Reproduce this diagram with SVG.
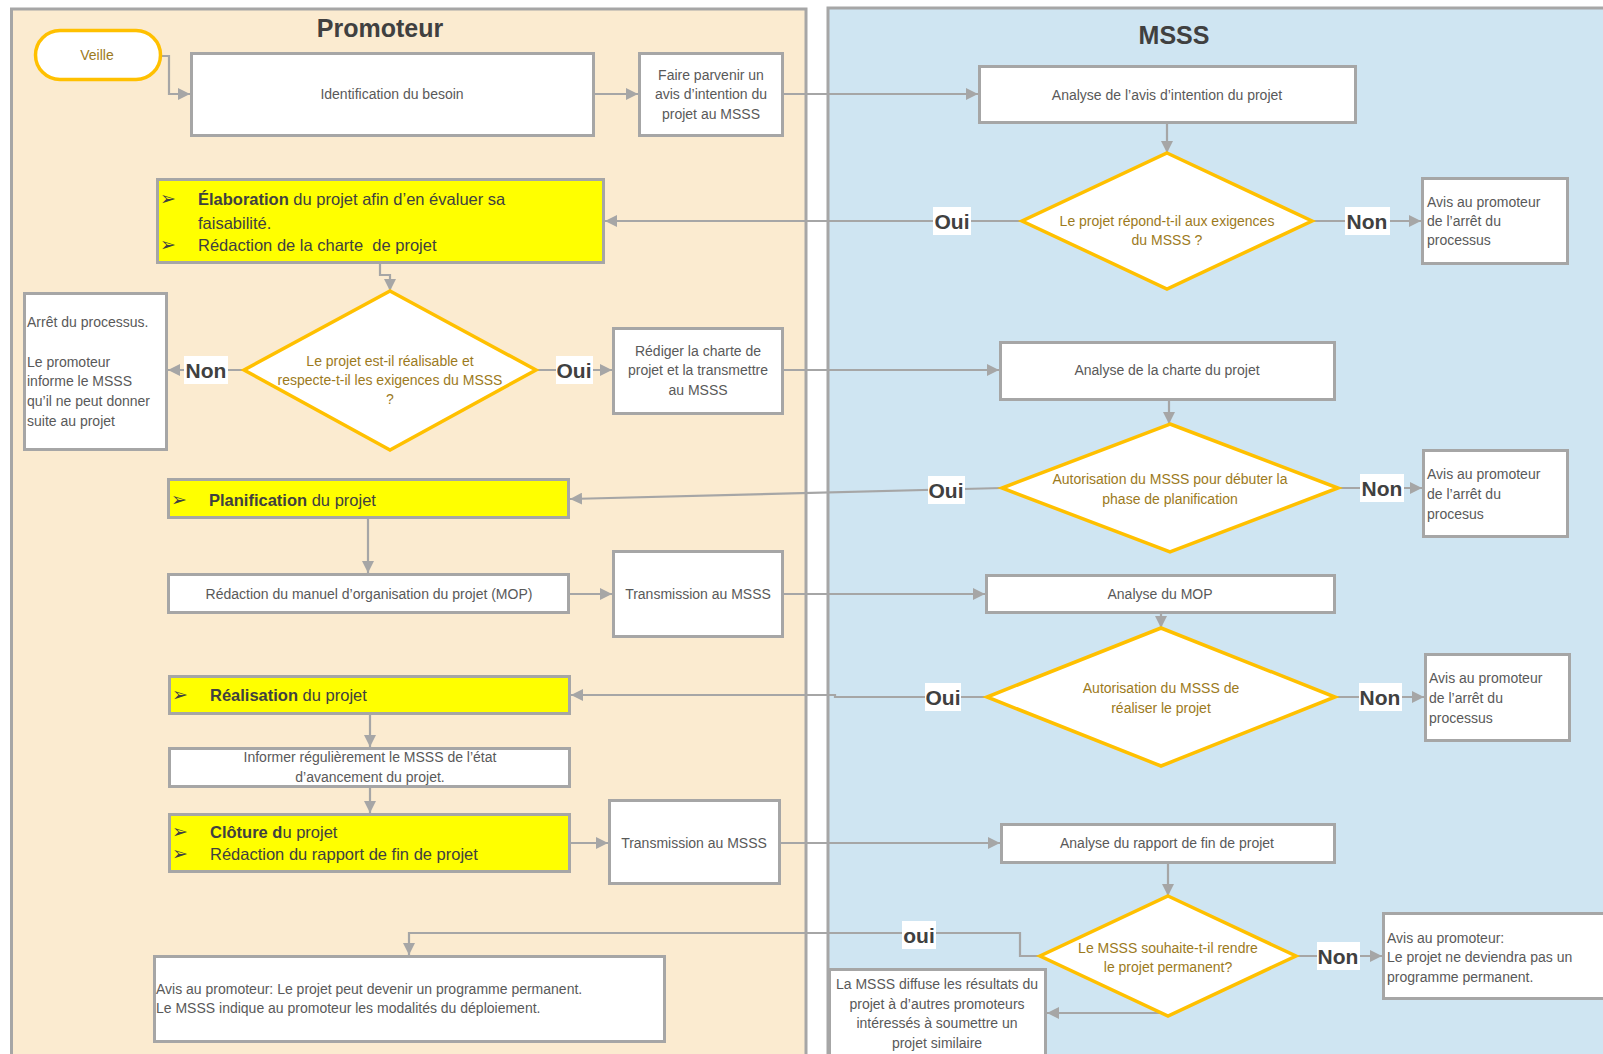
<svg xmlns="http://www.w3.org/2000/svg" width="1603" height="1054" viewBox="0 0 1603 1054">
<style>
.lane-p{fill:#FBEBD0;stroke:#A6A6A6;stroke-width:3}
.lane-m{fill:#CFE5F2;stroke:#A6A6A6;stroke-width:3}
.box{fill:#FFFFFF;stroke:#A6A6A6;stroke-width:3}
.ybox{fill:#FFFF00;stroke:#A6A6A6;stroke-width:3}
.dia{fill:#FFFFFF;stroke:#FFC000;stroke-width:3.5}
.conn{fill:none;stroke:#A6A6A6;stroke-width:2.2;marker-end:url(#arr)}
.t{font-family:"Liberation Sans",Arial,sans-serif;font-size:14px;fill:#595959}
.c{text-anchor:middle}
.d{fill:#9C7A1C}
.y{font-size:16.5px;fill:#404040}
.b{font-weight:bold}
.bul{font-family:"DejaVu Sans",sans-serif;font-size:19px;fill:#404040}
.lbl{font-family:"Liberation Sans",Arial,sans-serif;font-weight:bold;font-size:21px;fill:#404040;text-anchor:middle}
.lbg{fill:#FFFFFF}
.title{font-family:"Liberation Sans",Arial,sans-serif;font-weight:bold;font-size:25px;fill:#404040;text-anchor:middle}
</style>
<defs>
<marker id="arr" markerUnits="userSpaceOnUse" markerWidth="12" markerHeight="12" refX="12" refY="6" orient="auto">
<path d="M0,0 L12,6 L0,12 z" fill="#A6A6A6"/>
</marker>
</defs>
<rect width="1603" height="1054" fill="#FFFFFF"/>
<g id="lane-promoteur">
<rect class="lane-p" x="11.5" y="9" width="794.5" height="1060"/>
<text class="title" x="380" y="37">Promoteur</text>
</g>
<g id="lane-msss">
<rect class="lane-m" x="828" y="8" width="790" height="1060"/>
<text class="title" x="1174" y="44">MSSS</text>
</g>

<g id="connectors">
<path class="conn" d="M160,56 H169 V94 H190"/>
<path class="conn" d="M595,94 H638"/>
<path class="conn" d="M784,94 H978"/>
<path class="conn" d="M1167,124 V153"/>
<path class="conn" d="M1022,221 H605"/>
<path class="conn" d="M1312,221 H1421"/>
<path class="conn" d="M380,264 V275 H390 V291"/>
<path class="conn" d="M244,370 H168"/>
<path class="conn" d="M536,370 H612"/>
<path class="conn" d="M784,370 H999"/>
<path class="conn" d="M1169,401 V424"/>
<path class="conn" d="M1002,488 L570,499"/>
<path class="conn" d="M1338,488 H1422"/>
<path class="conn" d="M368,519 V573"/>
<path class="conn" d="M570,594 H612"/>
<path class="conn" d="M784,594 H985"/>
<path class="conn" d="M1161,614 V628"/>
<path class="conn" d="M987,697 H835 V695 H571"/>
<path class="conn" d="M1335,697 H1424"/>
<path class="conn" d="M370,715 V747"/>
<path class="conn" d="M370,788 V813"/>
<path class="conn" d="M571,843 H608"/>
<path class="conn" d="M781,843 H1000"/>
<path class="conn" d="M1168,864 V896"/>
<path class="conn" d="M1040,956 H1020 V933 H409 V955"/>
<path class="conn" d="M1296,956 H1382"/>
<path class="conn" d="M1168,1013 H1047"/>
<rect class="lbg" x="933" y="207" width="38" height="28"/>
<text class="lbl" x="952" y="229">Oui</text>
<rect class="lbg" x="1345" y="207" width="45" height="28"/>
<text class="lbl" x="1367" y="229">Non</text>
<rect class="lbg" x="184" y="356" width="44" height="28"/>
<text class="lbl" x="206" y="378">Non</text>
<rect class="lbg" x="556" y="356" width="37" height="28"/>
<text class="lbl" x="574" y="378">Oui</text>
<rect class="lbg" x="928" y="476" width="37" height="28"/>
<text class="lbl" x="946" y="498">Oui</text>
<rect class="lbg" x="1360" y="474" width="44" height="28"/>
<text class="lbl" x="1382" y="496">Non</text>
<rect class="lbg" x="925" y="683" width="36" height="28"/>
<text class="lbl" x="943" y="705">Oui</text>
<rect class="lbg" x="1359" y="683" width="43" height="28"/>
<text class="lbl" x="1380" y="705">Non</text>
<rect class="lbg" x="902" y="921" width="34" height="28"/>
<text class="lbl" x="919" y="943">oui</text>
<rect class="lbg" x="1317" y="942" width="43" height="28"/>
<text class="lbl" x="1338" y="964">Non</text>
</g>

<g id="n-veille">
<rect x="35.5" y="30.5" width="125" height="49" rx="24.5" fill="#FFFFFF" stroke="#FFC000" stroke-width="3.5"/>
<text class="t c d" x="97" y="60">Veille</text>
</g>
<g id="n-identification">
<rect class="box" x="191.5" y="53.5" width="402" height="82"/>
<text class="t c" x="392" y="99">Identification du besoin</text>
</g>
<g id="n-faire-parvenir">
<rect class="box" x="639.5" y="53.5" width="143" height="82"/>
<text class="t c" x="711" y="80">Faire parvenir un</text>
<text class="t c" x="711" y="99">avis d’intention du</text>
<text class="t c" x="711" y="119">projet au MSSS</text>
</g>
<g id="n-analyse-avis">
<rect class="box" x="979.5" y="66.5" width="376" height="56"/>
<text class="t c" x="1167" y="100">Analyse de l’avis d’intention du projet</text>
</g>
<g id="n-d1">
<polygon class="dia" points="1167,153 1312,221 1167,289 1022,221"/>
<text class="t c d" x="1167" y="226">Le projet répond-t-il aux exigences</text>
<text class="t c d" x="1167" y="245">du MSSS ?</text>
</g>
<g id="n-avis1">
<rect class="box" x="1422.5" y="178.5" width="145" height="85"/>
<text class="t" x="1427" y="207">Avis au promoteur</text>
<text class="t" x="1427" y="226">de l’arrêt du</text>
<text class="t" x="1427" y="245">processus</text>
</g>
<g id="n-elaboration">
<rect class="ybox" x="157.5" y="179.5" width="446" height="83"/>
<text class="bul" x="160" y="205">➢</text>
<text class="t y" x="198" y="205"><tspan class="b">Élaboration</tspan> du projet afin d’en évaluer sa</text>
<text class="t y" x="198" y="229">faisabilité.</text>
<text class="bul" x="160" y="251">➢</text>
<text class="t y" x="198" y="251" xml:space="preserve">Rédaction de la charte  de projet</text>
</g>
<g id="n-d2">
<polygon class="dia" points="390,291 536,370 390,450 244,370"/>
<text class="t c d" x="390" y="366">Le projet est-il réalisable et</text>
<text class="t c d" x="390" y="385">respecte-t-il les exigences du MSSS</text>
<text class="t c d" x="390" y="404">?</text>
</g>
<g id="n-arret">
<rect class="box" x="24.5" y="293.5" width="142" height="156"/>
<text class="t" x="27" y="327">Arrêt du processus.</text>
<text class="t" x="27" y="367">Le promoteur</text>
<text class="t" x="27" y="386">informe le MSSS</text>
<text class="t" x="27" y="406">qu’il ne peut donner</text>
<text class="t" x="27" y="426">suite au projet</text>
</g>
<g id="n-rediger">
<rect class="box" x="613.5" y="328.5" width="169" height="85"/>
<text class="t c" x="698" y="356">Rédiger la charte de</text>
<text class="t c" x="698" y="375">projet et la transmettre</text>
<text class="t c" x="698" y="395">au MSSS</text>
</g>
<g id="n-analyse-charte">
<rect class="box" x="1000.5" y="342.5" width="334" height="57"/>
<text class="t c" x="1167" y="375">Analyse de la charte du projet</text>
</g>
<g id="n-d3">
<polygon class="dia" points="1170,424 1338,488 1170,552 1002,488"/>
<text class="t c d" x="1170" y="484">Autorisation du MSSS pour débuter la</text>
<text class="t c d" x="1170" y="504">phase de planification</text>
</g>
<g id="n-avis2">
<rect class="box" x="1423.5" y="450.5" width="144" height="86"/>
<text class="t" x="1427" y="479">Avis au promoteur</text>
<text class="t" x="1427" y="499">de l’arrêt du</text>
<text class="t" x="1427" y="519">procesus</text>
</g>
<g id="n-planification">
<rect class="ybox" x="168.5" y="479.5" width="400" height="38"/>
<text class="bul" x="171" y="506">➢</text>
<text class="t y" x="209" y="506"><tspan class="b">Planification</tspan> du projet</text>
</g>
<g id="n-mop">
<rect class="box" x="168.5" y="574.5" width="400" height="38"/>
<text class="t c" x="369" y="599">Rédaction du manuel d’organisation du projet (MOP)</text>
</g>
<g id="n-transmission1">
<rect class="box" x="613.5" y="551.5" width="169" height="85"/>
<text class="t c" x="698" y="599">Transmission au MSSS</text>
</g>
<g id="n-analyse-mop">
<rect class="box" x="986.5" y="575.5" width="348" height="37"/>
<text class="t c" x="1160" y="599">Analyse du MOP</text>
</g>
<g id="n-d4">
<polygon class="dia" points="1161,628 1335,697 1161,766 987,697"/>
<text class="t c d" x="1161" y="693">Autorisation du MSSS de</text>
<text class="t c d" x="1161" y="713">réaliser le projet</text>
</g>
<g id="n-avis3">
<rect class="box" x="1425.5" y="654.5" width="144" height="86"/>
<text class="t" x="1429" y="683">Avis au promoteur</text>
<text class="t" x="1429" y="703">de l’arrêt du</text>
<text class="t" x="1429" y="723">processus</text>
</g>
<g id="n-realisation">
<rect class="ybox" x="169.5" y="676.5" width="400" height="37"/>
<text class="bul" x="172" y="701">➢</text>
<text class="t y" x="210" y="701"><tspan class="b">Réalisation</tspan> du projet</text>
</g>
<g id="n-informer">
<rect class="box" x="169.5" y="748.5" width="400" height="38"/>
<text class="t c" x="370" y="762">Informer régulièrement le MSSS de l’état</text>
<text class="t c" x="370" y="782">d’avancement du projet.</text>
</g>
<g id="n-cloture">
<rect class="ybox" x="169.5" y="814.5" width="400" height="57"/>
<text class="bul" x="172" y="838">➢</text>
<text class="t y" x="210" y="838"><tspan class="b">Clôture d</tspan>u projet</text>
<text class="bul" x="172" y="860">➢</text>
<text class="t y" x="210" y="860">Rédaction du rapport de fin de projet</text>
</g>
<g id="n-transmission2">
<rect class="box" x="609.5" y="800.5" width="170" height="83"/>
<text class="t c" x="694" y="848">Transmission au MSSS</text>
</g>
<g id="n-analyse-rapport">
<rect class="box" x="1001.5" y="824.5" width="333" height="38"/>
<text class="t c" x="1167" y="848">Analyse du rapport de fin de projet</text>
</g>
<g id="n-d5">
<polygon class="dia" points="1168,896 1296,956 1168,1016 1040,956"/>
<text class="t c d" x="1168" y="953">Le MSSS souhaite-t-il rendre</text>
<text class="t c d" x="1168" y="972">le projet permanent?</text>
</g>
<g id="n-avis-permanent">
<rect class="box" x="154.5" y="956.5" width="510" height="85"/>
<text class="t" x="156" y="994">Avis au promoteur: Le projet peut devenir un programme permanent.</text>
<text class="t" x="156" y="1013">Le MSSS indique au promoteur les modalités du déploiement.</text>
</g>
<g id="n-avis4">
<rect class="box" x="1383.5" y="913.5" width="230" height="85"/>
<text class="t" x="1387" y="943">Avis au promoteur:</text>
<text class="t" x="1387" y="962">Le projet ne deviendra pas un</text>
<text class="t" x="1387" y="982">programme permanent.</text>
</g>
<g id="n-diffuse">
<rect class="box" x="829.5" y="969.5" width="216" height="100"/>
<text class="t c" x="937" y="989">La MSSS diffuse les résultats du</text>
<text class="t c" x="937" y="1009">projet à d’autres promoteurs</text>
<text class="t c" x="937" y="1028">intéressés à soumettre un</text>
<text class="t c" x="937" y="1048">projet similaire</text>
</g>
</svg>
